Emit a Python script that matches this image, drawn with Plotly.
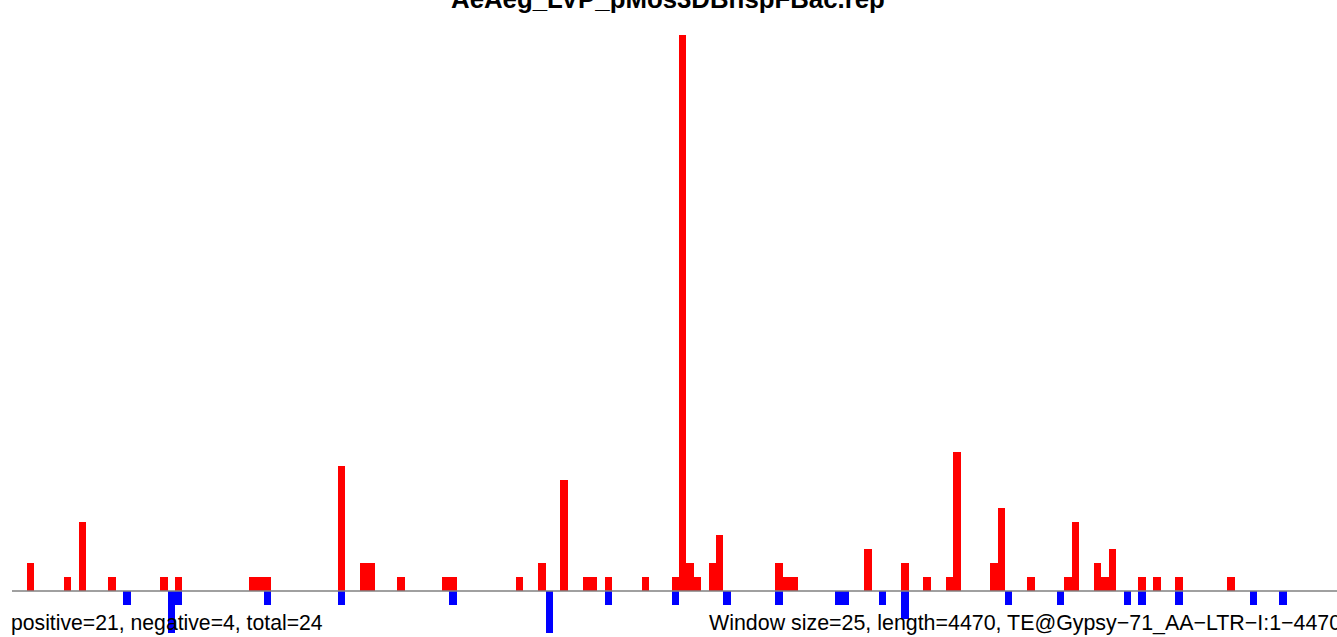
import plotly.graph_objects as go

# ---- data ----
title = "AeAeg_LVP_pMos3DBhspFBac.rep"
window_size = 25
seq_length = 4470

pos_windows = [2, 7, 9, 13, 20, 22, 32, 33, 34, 44, 47, 48, 52, 58, 59, 68, 71, 74,
               77, 78, 80, 85, 89, 90, 91, 92, 94, 95, 103, 104, 105, 115, 120, 123,
               126, 127, 132, 133, 137, 142, 143, 146, 147, 148, 152, 154, 157, 164]
pos_counts = [2, 1, 5, 1, 1, 1, 1, 1, 1, 9, 2, 2, 1, 1, 1, 1, 2, 8,
              1, 1, 1, 1, 1, 40, 2, 1, 2, 4, 2, 1, 1, 3, 2, 1,
              1, 10, 2, 6, 1, 1, 5, 2, 1, 3, 1, 1, 1, 1]

neg_windows = [15, 21, 22, 34, 44, 59, 72, 80, 89, 96, 103, 111, 112, 117, 120,
               134, 141, 150, 152, 157, 167, 171]
neg_counts = [1, 3, 1, 1, 1, 1, 3, 1, 1, 1, 1, 1, 1, 1, 2,
              1, 1, 1, 1, 1, 1, 1]

left_label = "positive=21, negative=4, total=24"
right_label = "Window size=25, length=4470, TE@Gypsy\u221271_AA\u2212LTR\u2212I:1\u22124470"

# ---- figure ----
pos_x = [w * window_size for w in pos_windows]
neg_x = [w * window_size for w in neg_windows]
neg_y = [-c for c in neg_counts]

fig = go.Figure()
fig.add_trace(go.Bar(x=pos_x, y=pos_counts, width=window_size, offset=0,
                     marker=dict(color="#FF0000", line=dict(width=0)),
                     showlegend=False))
fig.add_trace(go.Bar(x=neg_x, y=neg_y, width=window_size, offset=0,
                     marker=dict(color="#0000FF", line=dict(width=0)),
                     showlegend=False))

fig.add_shape(type="line", xref="x", yref="y", x0=0, x1=seq_length, y0=0, y1=0,
              line=dict(color="#808080", width=1.3), layer="above")

font_family = "Liberation Sans, Arial, sans-serif"
fig.add_annotation(text="<b>" + title + "</b>", xref="paper", yref="paper",
                   x=0.5, y=1, xanchor="center", yanchor="bottom", xshift=-7, yshift=-15,
                   showarrow=False, font=dict(family=font_family, size=25.8, color="black"))
fig.add_annotation(text=left_label, xref="paper", yref="paper",
                   x=0, y=0, xanchor="left", yanchor="bottom", xshift=-3,
                   showarrow=False, font=dict(family=font_family, size=21.2, color="black"))
fig.add_annotation(text=right_label, xref="paper", yref="paper",
                   x=1, y=0, xanchor="right", yanchor="bottom", xshift=6,
                   showarrow=False, font=dict(family=font_family, size=21.4, color="black"))

fig.update_layout(
    width=1337, height=637,
    margin=dict(l=12, r=0, t=0, b=0),
    barmode="overlay", bargap=0,
    plot_bgcolor="white", paper_bgcolor="white",
    xaxis=dict(range=[0, seq_length], visible=False, fixedrange=True),
    yaxis=dict(range=[-3.31, 42.52], visible=False, fixedrange=True),
)

fig.write_html(
    "out.html",
    config={"displayModeBar": False},
    post_script="document.body.style.margin='0';document.body.style.overflow='hidden';",
)
